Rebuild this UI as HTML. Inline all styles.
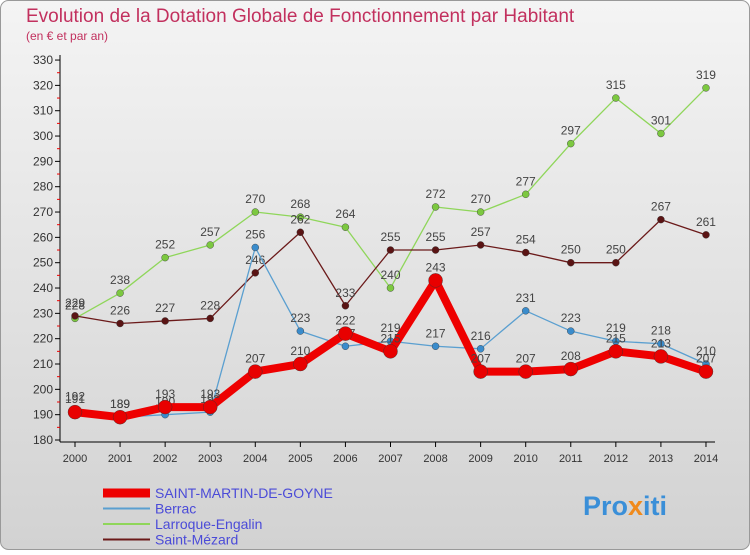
<!DOCTYPE html>
<html><head><meta charset="utf-8"><style>
body{margin:0;width:750px;height:550px;overflow:hidden;font-family:"Liberation Sans",sans-serif}
</style></head><body>
<svg id="c" width="750" height="550" xmlns="http://www.w3.org/2000/svg" font-family="Liberation Sans, sans-serif">
<defs><linearGradient id="bg" x1="0" y1="0" x2="0" y2="1"><stop offset="0" stop-color="#f4f4f4"/><stop offset="1" stop-color="#d2d2d2"/></linearGradient></defs>
<rect x="0.5" y="0.5" width="749" height="549" rx="8" fill="url(#bg)" stroke="#999"/>
<text x="26" y="22" font-size="19" fill="#c2305e">Evolution de la Dotation Globale de Fonctionnement par Habitant</text>
<text x="26" y="40" font-size="12" fill="#c2305e">(en € et par an)</text>
<g id="axes"></g><g id="series"></g><g id="legend"></g>
<text x="583" y="515" font-size="27" font-weight="bold" fill="#3a8fd8">Pro<tspan fill="#f08a1c">x</tspan>iti</text>
</svg>
<script>
const years=[2000,2001,2002,2003,2004,2005,2006,2007,2008,2009,2010,2011,2012,2013,2014];
const yTicks=[180,190,200,210,220,230,240,250,260,270,280,290,300,310,320,330];
const seriesNames=["SAINT-MARTIN-DE-GOYNE","Berrac","Larroque-Engalin","Saint-Mézard"];
const stMartin=[191,189,193,193,207,210,222,215,243,207,207,208,215,213,207];
const berrac=[192,189,190,191,256,223,217,219,217,216,231,223,219,218,210];
const larroque=[228,238,252,257,270,268,264,240,272,270,277,297,315,301,319];
const stMezard=[229,226,227,228,246,262,233,255,255,257,254,250,250,267,261];
const NS="http://www.w3.org/2000/svg";
const X=i=>75+i*45.07, Y=v=>440-(v-180)*2.533;
function mk(t,a,p){const e=document.createElementNS(NS,t);for(const k in a)e.setAttribute(k,a[k]);p.appendChild(e);return e;}
const ax=document.getElementById('axes');
let l=mk('line',{x1:60,y1:55,x2:60,y2:442,stroke:'#000'},ax);


l=mk('line',{x1:60,y1:442,x2:715,y2:442,stroke:'#000'},ax);


yTicks.forEach(v=>{mk('line',{x1:55,x2:60,y1:Y(v),y2:Y(v),stroke:'#000'},ax);
 if(v<330)mk('line',{x1:57,x2:60,y1:Y(v+5),y2:Y(v+5),stroke:'#e00'},ax);
 const t=mk('text',{x:53,y:Y(v)+4,'text-anchor':'end','font-size':12,fill:'#333'},ax);t.textContent=v;
 
 });
years.forEach((y,i)=>{mk('line',{x1:X(i),x2:X(i),y1:442,y2:447,stroke:'#000'},ax);
 const t=mk('text',{x:X(i),y:462,'text-anchor':'middle','font-size':11,fill:'#333'},ax);t.textContent=y;
 
 });
const sg=document.getElementById('series');
const defs=[[larroque,'#8fd65a','#7cc840',1.3,3.5],[stMezard,'#6b1a1a','#5a1414',1.3,3.5],[berrac,'#5a9fd0','#3a8ccc',1.3,3.5],[stMartin,'#ee0000','#e80000',8,7]];
const names=['larroque','saint-mezard','berrac','saint-martin'];
defs.forEach((d,k)=>{const [vals,col,fill,w,r]=d;
 const p=mk('polyline',{points:vals.map((v,i)=>X(i)+','+Y(v)).join(' '),fill:'none',stroke:col,'stroke-width':w,'stroke-linejoin':'round'},sg);
 
 
 vals.forEach((v,i)=>{const c=mk('circle',{cx:X(i),cy:Y(v),r:r,fill:fill,stroke:'#333','stroke-width':0.4},sg);
  
  
  const t=mk('text',{x:X(i),y:Y(v)-9,'text-anchor':'middle','font-size':12,fill:'#444'},sg);t.textContent=v;
  
  });});
const lg=document.getElementById('legend');
const lc=['#ee0000','#5a9fd0','#8fd65a','#6b1a1a'],lw=[9,2,2,2];
seriesNames.forEach((n,i)=>{const y=493+i*15.5;
 const ln=mk('line',{x1:103,x2:150,y1:y,y2:y,stroke:lc[i],'stroke-width':lw[i]},lg);
 
 
 const t=mk('text',{x:155,y:y+5,'font-size':14,fill:'#4b4bd8'},lg);t.textContent=n;
 
 });
</script>
</body></html>
